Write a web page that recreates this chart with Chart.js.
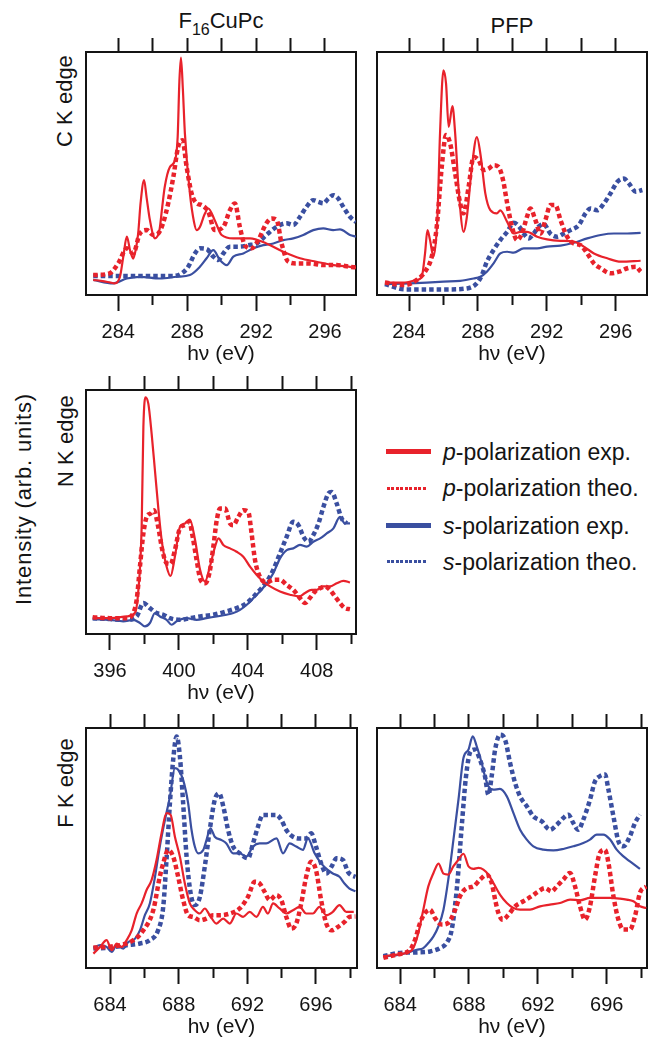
<!DOCTYPE html>
<html><head><meta charset="utf-8">
<script src="https://cdn.jsdelivr.net/npm/chart.js@4/dist/chart.umd.min.js"></script>
<style>
html,body{margin:0;padding:0;background:#fff;}
body{width:658px;height:1042px;position:relative;overflow:hidden;font-family:"Liberation Sans",Arial,Helvetica,sans-serif;color:#141414;}
.lbl{position:absolute;white-space:nowrap;font-size:22px;line-height:22px;text-align:center;width:200px;}
.lbl sub{font-size:16px;vertical-align:-6.5px;line-height:0;}
.rot{position:absolute;width:260px;height:22px;line-height:22px;font-size:22px;text-align:center;white-space:nowrap;transform:rotate(-90deg);}
.legline{position:absolute;}
.legtxt{position:absolute;left:443px;font-size:23px;line-height:23px;white-space:nowrap;}
</style></head><body>

<div class="lbl" style="left:121px;top:9.7px;">F<sub>16</sub>CuPc</div>
<div class="lbl" style="left:412px;top:14.7px;">PFP</div>
<div class="rot" style="left:-65px;top:89.5px;">C K edge</div>
<div class="rot" style="left:-64.5px;top:429.5px;">N K edge</div>
<div class="rot" style="left:-64.5px;top:771.5px;">F K edge</div>
<div class="rot" style="left:-106px;top:487.5px;letter-spacing:0.85px;">Intensity (arb. units)</div>

<div id="legend"></div>

<script>
// ---------- tick values ----------
const TICKS_C = [284, 286, 288, 290, 292, 294, 296];
const LABELS_C = [284, 288, 292, 296];
const TICKS_N = [396, 398, 400, 402, 404, 406, 408, 410];
const LABELS_N = [396, 400, 404, 408];
const TICKS_F = [684, 686, 688, 690, 692, 694, 696, 698];
const LABELS_F = [684, 688, 692, 696];

// ---------- legend / series names ----------
const SERIES_NAMES = ['p-polarization exp.', 'p-polarization theo.', 's-polarization exp.', 's-polarization theo.'];

// ---------- C K edge, F16CuPc  [eV, intensity] ----------
const cF16_pExp = [[282.55,6.2],[283.0,5.8],[283.5,5.2],[283.8,4.8],[284.1,7.5],[284.3,16],[284.5,24],[284.7,18],[284.87,15],[285.05,20],[285.16,25.5],[285.3,38],[285.5,47.3],[285.65,40],[285.84,30.8],[286.13,23.3],[286.4,27],[286.55,36],[286.7,44.5],[287.0,52.7],[287.3,55.5],[287.45,65],[287.55,88],[287.64,97.7],[287.75,85],[287.87,66.4],[288.16,41.8],[288.4,30],[288.55,26.7],[288.74,28],[289.0,33],[289.23,35.6],[289.6,30.8],[290.0,24.7],[290.68,23.3],[291.65,23.3],[292.6,21.2],[293.58,17.8],[294.55,15.1],[295.5,13.7],[296.5,12.3],[297.45,11.6],[297.8,11.3]];
const cF16_pTheo = [[282.55,8.2],[283.5,8.9],[284.0,13],[284.5,19.2],[284.87,17.1],[285.26,25.3],[285.65,26.7],[286.03,24.7],[286.32,25.3],[286.6,29.5],[286.9,37.7],[287.2,48.6],[287.48,61],[287.73,63.7],[287.97,52.7],[288.26,41.8],[288.55,37.7],[288.84,37],[289.23,34.2],[289.6,26.7],[290.1,28],[290.48,34.9],[290.77,37.7],[291.06,28],[291.35,20.5],[291.74,19.2],[292.13,22.6],[292.6,29.5],[292.9,31.5],[293.2,30.8],[293.48,21.2],[293.87,13.7],[294.35,13],[295.1,13],[295.9,12.3],[296.68,12.3],[297.45,11.6],[297.8,11.4]];
const cF16_sExp = [[282.55,6.2],[283.7,4.8],[284.5,6.8],[285.26,7.5],[286.42,6.8],[287.4,7.5],[288.16,8.2],[288.74,11.6],[289.13,15.1],[289.52,18.5],[289.9,14.4],[290.3,12.3],[290.68,15.8],[291.26,17.1],[291.84,19.2],[292.42,20.5],[293.0,21.2],[293.58,22.6],[294.16,23.3],[294.74,24.7],[295.32,26.7],[295.9,27.4],[296.48,26.7],[296.87,27],[297.45,24.7],[297.8,24]];
const cF16_sTheo = [[282.55,7.8],[283.9,7.8],[285.84,7.8],[287.2,7.8],[287.68,8.9],[288.06,11.6],[288.45,17.1],[288.74,19.2],[289.13,18.9],[289.52,15.8],[289.8,14.4],[290.1,17.1],[290.48,19.9],[291.06,19.9],[291.55,20.5],[292.03,21.2],[292.6,24.7],[293.2,28.1],[293.77,29.5],[294.16,28.8],[294.55,32.2],[294.93,36.3],[295.32,39],[295.6,38.4],[295.9,37.7],[296.2,39.7],[296.48,41.1],[296.77,39.7],[297.06,36.3],[297.45,32.2],[297.8,30]];

// ---------- C K edge, PFP ----------
const cPFP_pExp = [[282.6,5.1],[283.67,5.1],[284.45,6.2],[284.74,7.5],[284.93,17.1],[285.07,26.7],[285.22,22.6],[285.42,15.8],[285.65,32.2],[285.8,66.4],[286.0,92.5],[286.15,87],[286.3,69.2],[286.52,77.7],[286.68,66.4],[286.87,44.5],[287.17,26],[287.36,32.2],[287.65,52.7],[287.94,65],[288.17,56.8],[288.43,41.8],[288.72,34.9],[289.1,33.6],[289.3,34.8],[289.7,30.1],[290.08,25.3],[290.47,26],[290.85,26],[291.44,24],[292.02,22.9],[292.8,22.3],[293.57,22],[294.15,19.9],[294.74,17.1],[295.51,15.1],[296.3,13.7],[297.45,14.1]];
const cPFP_pTheo = [[282.6,5.1],[283.77,4.1],[284.45,6.2],[284.93,9.6],[285.32,15.8],[285.61,28.1],[285.9,52.7],[286.15,65.8],[286.39,62.3],[286.68,50],[286.97,37.7],[287.17,33.6],[287.46,44.5],[287.75,56.8],[288.04,55.5],[288.33,51.4],[288.62,52],[288.91,53.4],[289.2,52.7],[289.46,47.3],[289.7,37.7],[289.98,28.1],[290.27,22.6],[290.56,25.3],[290.85,32.2],[291.05,35.6],[291.34,30.8],[291.63,25.3],[291.92,30.8],[292.21,37],[292.5,37],[292.8,30.8],[293.18,24],[293.57,21.2],[293.96,20.5],[294.35,17.1],[294.74,13],[295.13,11],[295.7,8.9],[296.2,9.6],[296.68,11],[297.17,11.6],[297.45,9.6]];
const cPFP_sExp = [[282.6,4.5],[284.06,4.8],[285.03,5.1],[286.0,5.5],[286.97,5.8],[287.75,6.8],[288.14,7.5],[288.52,9.6],[288.91,13],[289.3,17.1],[289.7,17.8],[290.08,17.4],[290.66,19.2],[291.44,19.2],[292.02,19.9],[292.8,20.3],[293.57,21.5],[294.35,23.3],[295.13,24.7],[295.9,25.3],[296.68,25.3],[297.45,25.6]];
const cPFP_sTheo = [[282.6,4.5],[283.77,2.3],[285.03,2.3],[286.2,2.3],[287.36,2.7],[287.94,4.8],[288.23,8.2],[288.52,13.7],[288.91,18.5],[289.3,22.6],[289.7,26],[290.08,29.7],[290.37,28.4],[290.66,25.3],[290.95,23.3],[291.24,25.3],[291.53,28.1],[291.82,29.2],[292.21,25.3],[292.6,24],[292.99,25.3],[293.38,26.7],[293.86,28.8],[294.25,33.6],[294.54,35.6],[294.93,34.9],[295.32,37.7],[295.7,41.8],[296.1,46.6],[296.48,47.9],[296.77,45.9],[297.17,42.5],[297.55,43.2]];

// ---------- N K edge, F16CuPc ----------
const nF16_pExp = [[395.0,6.5],[396.0,6.5],[396.97,7.2],[397.45,8.6],[397.65,18.1],[397.84,43.9],[397.94,84.8],[398.07,97],[398.23,94.3],[398.42,82],[398.61,67.1],[398.8,52.1],[399.0,38.5],[399.29,27.6],[399.52,23.8],[399.77,31.7],[400.06,43.9],[400.35,45.3],[400.64,46.9],[400.94,38.5],[401.23,26.3],[401.52,21.5],[401.8,27.6],[402.1,35.8],[402.3,39.2],[402.58,36.5],[402.97,35.1],[403.35,33.7],[403.74,31.7],[404.13,27.6],[404.52,24.2],[404.9,21.5],[405.3,19.5],[405.87,17.4],[406.45,16.1],[407.0,15.4],[407.3,16.7],[407.7,18.1],[408.0,18.1],[408.38,19.5],[408.77,19.5],[409.16,20.8],[409.55,21.8],[409.93,21.1]];
const nF16_pTheo = [[395.0,6.9],[396.0,6.5],[396.97,6.5],[397.35,8.6],[397.55,14],[397.74,27.6],[397.94,41.2],[398.13,48],[398.36,49.4],[398.55,50.7],[398.8,43.9],[399.04,34.4],[399.29,29],[399.52,28.7],[399.77,34.4],[400.06,43.3],[400.35,44.6],[400.6,46],[400.8,39.9],[401.03,30.3],[401.26,22.2],[401.52,20.8],[401.77,24.9],[402.0,35.8],[402.2,46.7],[402.39,51.4],[402.68,51.4],[402.97,45.3],[403.16,44.6],[403.45,48],[403.74,50.7],[404.03,50],[404.22,41.2],[404.42,30.3],[404.7,23.5],[405.1,21.1],[405.48,22.2],[405.87,22.2],[406.26,20.1],[406.64,18.1],[407.03,14.7],[407.32,12.7],[407.6,14.7],[407.9,17.4],[408.2,18.8],[408.48,19.5],[408.77,18.1],[409.06,15.4],[409.35,12.7],[409.64,10.6],[409.93,10.2]];
const nF16_sExp = [[395.0,6.1],[396.0,5.8],[396.77,5.2],[397.35,5.8],[397.74,4.5],[398.03,3.1],[398.32,4.5],[398.61,8.6],[398.9,7.2],[399.29,5.8],[399.58,3.8],[399.87,5.2],[400.45,6.5],[401.03,5.8],[401.6,6.5],[402.2,7.2],[402.77,7.9],[403.16,8.6],[403.55,9.9],[403.94,12],[404.32,14.7],[404.7,17.4],[405.1,20.8],[405.48,24.9],[405.87,31],[406.26,34.4],[406.64,35.1],[407.03,36.5],[407.42,35.8],[407.8,37.8],[408.2,39.2],[408.58,41.2],[408.97,43.3],[409.35,48],[409.64,45.3],[409.93,45.3]];
const nF16_sTheo = [[395.0,6.5],[396.0,6.1],[396.97,5.8],[397.55,7.2],[397.94,12.7],[398.32,10.6],[398.71,8.6],[399.1,7.9],[399.48,6.5],[400.06,5.8],[400.64,6.5],[401.23,7.2],[402.0,7.9],[402.77,9.3],[403.35,10.6],[403.94,12.7],[404.52,16.7],[405.1,21.5],[405.48,26.3],[405.87,33.1],[406.26,39.9],[406.64,46],[406.94,44.6],[407.23,39.9],[407.52,37.8],[407.8,40.5],[408.1,45.3],[408.39,52.1],[408.68,57.6],[408.87,58.2],[409.16,53.5],[409.45,47.3],[409.74,45.3]];

// ---------- F K edge, F16CuPc ----------
const fF16_pExp = [[683.03,6],[683.42,8.8],[683.8,11.6],[684.1,7.4],[684.39,10.2],[684.68,8.8],[684.97,11.6],[685.26,15.7],[685.55,22.7],[685.84,26.9],[686.13,32.5],[686.42,36.6],[686.71,45],[687.0,56.1],[687.29,64.5],[687.53,63.8],[687.78,54.7],[688.07,46.4],[688.36,35.2],[688.65,26.9],[688.94,24.1],[689.23,22.7],[689.52,24.8],[689.81,22],[690.2,18.5],[690.59,20.6],[690.98,18.5],[691.36,22.7],[691.75,21.3],[692.14,23.4],[692.53,21.3],[692.91,25.5],[693.2,22.7],[693.5,26.9],[693.88,24.8],[694.27,22.7],[694.66,24.1],[695.05,25.5],[695.43,22.7],[695.82,22.7],[696.2,25.5],[696.6,22],[696.98,23.4],[697.37,26.2],[697.76,23.4],[698.2,23.4]];
const fF16_pTheo = [[683.03,8.5],[683.8,8.8],[684.58,9.5],[685.36,11.6],[685.94,15.7],[686.52,24.1],[686.9,38],[687.1,43.6],[687.39,49.2],[687.68,46.4],[687.97,38],[688.26,28.3],[688.55,22],[688.84,21.3],[689.23,19.9],[689.62,20.6],[690.0,22],[690.4,22],[690.98,22.7],[691.55,24.8],[692.04,29.7],[692.43,35.9],[692.72,35.2],[693.0,31.8],[693.3,28.3],[693.69,30.4],[693.98,28.3],[694.27,21.3],[694.56,16.4],[694.85,18.5],[695.14,26.9],[695.43,38],[695.72,44.3],[696.0,40.8],[696.3,28.3],[696.6,18.5],[696.9,15.7],[697.28,17.1],[697.66,19.2],[697.95,21.3],[698.3,21.5]];
const fF16_sExp = [[683.03,8.5],[683.42,9.5],[683.8,8.8],[684.1,6.7],[684.39,9.5],[684.78,8.1],[685.07,10.9],[685.36,11.6],[685.74,15.7],[686.03,22],[686.32,26.9],[686.62,38],[686.9,50.6],[687.2,61.7],[687.49,71.4],[687.78,83.3],[687.97,82.6],[688.26,78.4],[688.55,68.7],[688.75,57.5],[688.94,50.6],[689.13,47.8],[689.43,49.2],[689.62,53.3],[689.85,58.2],[690.1,54.7],[690.5,53.3],[690.78,51.9],[691.17,47.8],[691.55,47.8],[691.94,46.4],[692.33,50.6],[692.72,51.9],[693.1,51.9],[693.7,54],[694.08,47.8],[694.47,51.9],[694.85,50.6],[695.24,49.2],[695.53,54],[695.92,47.8],[696.3,43.6],[696.7,40.8],[696.98,39.4],[697.37,38],[697.66,35.2],[697.95,33.1],[698.3,32]];
const fF16_sTheo = [[683.03,8.1],[684.0,8.5],[684.97,9.5],[685.74,10.2],[686.32,11.6],[686.8,15.7],[687.1,25.5],[687.29,45],[687.49,68.7],[687.68,86.8],[687.88,96.5],[688.07,88.2],[688.26,68.7],[688.46,46.4],[688.7,31],[688.94,26.2],[689.23,29.5],[689.52,42.2],[689.81,57.5],[690.1,70],[690.36,72.8],[690.6,67.3],[690.88,57.5],[691.17,50.6],[691.55,47.8],[692.04,45.7],[692.33,51.9],[692.62,58.9],[692.91,63.8],[693.3,63.8],[693.69,63.8],[693.98,61.7],[694.27,57.5],[694.66,54.7],[695.05,54],[695.43,54],[695.72,56.1],[696.0,50.6],[696.3,43.6],[696.6,39.4],[696.9,42.2],[697.2,45.7],[697.57,45],[697.86,40.1],[698.05,38.7],[698.3,38]];

// ---------- F K edge, PFP ----------
const fPFP_pExp = [[683.03,4.9],[683.8,5.6],[684.58,6.9],[684.77,8.3],[685.06,14.6],[685.35,24.3],[685.64,34],[685.94,39.6],[686.23,43.5],[686.52,39.3],[686.8,38.9],[687.1,42.4],[687.39,45.1],[687.68,47.6],[687.97,42.4],[688.26,41.3],[688.55,41.7],[688.84,41],[689.13,38.9],[689.42,35.4],[689.8,30.6],[690.2,27.1],[690.58,25],[690.97,24.3],[691.55,24.3],[692.13,25.7],[692.7,26.4],[693.29,27.1],[693.87,28.5],[694.45,28.2],[695.03,29.2],[695.6,29.2],[696.2,29.2],[696.77,28.9],[697.16,28.5],[697.55,27.8],[697.93,25.7],[698.3,25]];
const fPFP_pTheo = [[683.03,4.2],[683.8,5.6],[684.58,7.6],[684.87,11.8],[685.16,18.8],[685.45,22.9],[685.74,24.3],[686.03,20.8],[686.42,18.1],[686.8,18.8],[687.2,24.3],[687.48,29.9],[687.87,33.3],[688.26,34],[688.64,36.8],[689.03,38.9],[689.32,35.4],[689.52,28.5],[689.71,22.9],[689.96,20.1],[690.29,22.2],[690.68,25.7],[691.16,27.8],[691.64,29.9],[692.03,31.9],[692.42,33.3],[692.8,31.9],[693.1,34],[693.48,36.8],[693.87,39.6],[694.16,34],[694.45,25.7],[694.74,20.1],[695.03,25.7],[695.32,38.2],[695.6,47.9],[695.9,49.3],[696.1,43.8],[696.39,29.9],[696.68,20.1],[696.97,16],[697.35,16],[697.64,21.5],[697.93,31.3],[698.3,34]];
const fPFP_sExp = [[683.03,4.9],[684.0,5.6],[684.97,7.6],[685.35,8.3],[685.64,10.4],[685.94,13.2],[686.23,17.4],[686.52,24.3],[686.8,36.8],[687.1,53.5],[687.39,70.1],[687.68,87.5],[687.97,91],[688.22,96.5],[688.45,92.4],[688.74,85.4],[688.93,79.9],[689.13,75.7],[689.42,74.3],[689.8,74.6],[690.2,71.5],[690.58,64.6],[690.97,57.6],[691.36,53.5],[691.74,50.7],[692.32,49.3],[692.9,49],[693.48,49.6],[694.06,50.7],[694.64,52.1],[695.03,53.5],[695.42,55.6],[695.8,55.6],[696.2,53.5],[696.58,49.3],[696.97,46.5],[697.35,44.4],[697.93,41.3]];
const fPFP_sTheo = [[683.03,4.9],[684.0,6.3],[684.97,6.5],[685.74,6.9],[686.32,8.3],[686.7,10.4],[687.0,16],[687.29,32.6],[687.58,59],[687.83,79.9],[688.1,90.3],[688.35,91],[688.64,86.8],[688.93,79.9],[689.13,72.2],[689.32,79.9],[689.52,91],[689.8,97.2],[690.1,95.1],[690.39,85.4],[690.68,77.1],[690.97,71.5],[691.36,67.4],[691.74,63.2],[692.23,61.1],[692.7,57.6],[693.1,59.7],[693.48,62.5],[693.77,63.9],[694.06,60.4],[694.35,57.6],[694.64,61.8],[695.03,70.1],[695.32,77.8],[695.6,79.9],[695.9,80.6],[696.1,74.3],[696.39,63.2],[696.68,52.8],[696.97,50.7],[697.35,54.9],[697.64,60.4],[697.93,63.9]];

// ---------- styling & layout ----------
const FONT = '"Liberation Sans", Arial, Helvetica, sans-serif';
const RED = '#e8222b', BLUE = '#3a4fa0', INK = '#141414';
const PADL = 30, PADR = 10, PADT = 16, PADB = 80;
Chart.defaults.font.family = FONT;

function panel(box, range, ticks, labels, series) {
  const W = box.R - box.L, H = box.B - box.T;
  const cv = document.createElement('canvas');
  cv.width = W + PADL + PADR; cv.height = H + PADT + PADB;
  cv.style.cssText = 'position:absolute;left:' + (box.L - PADL) + 'px;top:' + (box.T - PADT) + 'px;width:' + cv.width + 'px;height:' + cv.height + 'px;';
  document.body.appendChild(cv);
  const setTicks = s => { s.ticks = ticks.map(v => ({ value: v })); };
  const isMajor = v => labels.includes(v);
  const ds = [
    { d: series[0], c: RED, dot: false },
    { d: series[1], c: RED, dot: true },
    { d: series[2], c: BLUE, dot: false },
    { d: series[3], c: BLUE, dot: true }
  ].map((s, i) => ({
    label: SERIES_NAMES[i],
    data: s.d.map(p => ({ x: p[0], y: p[1] })),
    borderColor: s.c,
    backgroundColor: s.c,
    borderWidth: s.dot ? 4.5 : 2.2,
    borderDash: s.dot ? [4.5, 3] : [],
    borderCapStyle: 'butt',
    pointRadius: 0,
    cubicInterpolationMode: 'monotone',
    fill: false
  }));
  new Chart(cv, {
    type: 'line',
    data: { datasets: ds },
    options: {
      responsive: false, animation: false, devicePixelRatio: 1,
      layout: { padding: { left: PADL, right: PADR, top: 0, bottom: 0 } },
      plugins: { legend: { display: false }, tooltip: { enabled: false }, title: { display: false } },
      scales: {
        x: {
          type: 'linear', position: 'bottom', min: range[0], max: range[1],
          afterBuildTicks: setTicks,
          afterFit: s => { s.height = PADB; },
          grid: {
            drawOnChartArea: false, drawTicks: true, tickLength: 16, tickWidth: 2, tickColor: INK,
            tickBorderDash: c => (c.tick && !isMajor(c.tick.value)) ? [9, 40] : []
          },
          border: { display: true, color: INK, width: 2 },
          ticks: {
            autoSkip: false, maxRotation: 0, minRotation: 0, padding: 9, color: INK,
            font: { family: FONT, size: 20 },
            callback: v => isMajor(v) ? String(v) : ''
          },
          title: { display: true, text: 'h\u03bd (eV)', color: INK, font: { family: FONT, size: 21 }, padding: { top: 0, bottom: 8 } }
        },
        x2: {
          type: 'linear', position: 'top', min: range[0], max: range[1],
          afterBuildTicks: setTicks,
          afterFit: s => { s.height = PADT; },
          grid: { drawOnChartArea: false, drawTicks: true, tickLength: 14, tickWidth: 2, tickColor: INK },
          border: { display: true, color: INK, width: 2 },
          ticks: { display: false }
        },
        y: {
          type: 'linear', position: 'left', min: 0, max: 100,
          afterFit: s => { s.width = 0; },
          grid: { drawOnChartArea: false, drawTicks: false },
          border: { display: true, color: INK, width: 2 },
          ticks: { display: false }
        },
        y2: {
          type: 'linear', position: 'right', min: 0, max: 100,
          afterFit: s => { s.width = 0; },
          grid: { drawOnChartArea: false, drawTicks: false },
          border: { display: true, color: INK, width: 2 },
          ticks: { display: false }
        }
      }
    }
  });
}

panel({ L: 86, R: 356, T: 52, B: 295 }, [282.13, 297.8], TICKS_C, LABELS_C, [cF16_pExp, cF16_pTheo, cF16_sExp, cF16_sTheo]);
panel({ L: 377, R: 647, T: 52, B: 295 }, [282.14, 297.82], TICKS_C, LABELS_C, [cPFP_pExp, cPFP_pTheo, cPFP_sExp, cPFP_sTheo]);
panel({ L: 86, R: 356, T: 390, B: 634 }, [394.61, 410.28], TICKS_N, LABELS_N, [nF16_pExp, nF16_pTheo, nF16_sExp, nF16_sTheo]);
panel({ L: 86, R: 357, T: 728, B: 968 }, [682.6, 698.39], TICKS_F, LABELS_F, [fF16_pExp, fF16_pTheo, fF16_sExp, fF16_sTheo]);
panel({ L: 377, R: 647, T: 728, B: 968 }, [682.66, 698.34], TICKS_F, LABELS_F, [fPFP_pExp, fPFP_pTheo, fPFP_sExp, fPFP_sTheo]);

// ---------- legend (HTML) ----------
const LEG_Y = [451.7, 488.3, 525.7, 561.7];
const leg = document.getElementById('legend');
SERIES_NAMES.forEach((name, i) => {
  const col = i < 2 ? RED : BLUE;
  const dotted = i % 2 === 1;
  const ln = document.createElement('div');
  ln.className = 'legline';
  if (dotted) {
    ln.style.cssText = 'left:387px;width:40px;height:3.4px;top:' + (LEG_Y[i] - 1.7) + 'px;background:repeating-linear-gradient(90deg,' + col + ' 0 2.8px,transparent 2.8px 4.5px);';
  } else {
    ln.style.cssText = 'left:386px;width:45px;height:5px;top:' + (LEG_Y[i] - 2.5) + 'px;background:' + col + ';';
  }
  leg.appendChild(ln);
  const tx = document.createElement('div');
  tx.className = 'legtxt';
  tx.style.top = (LEG_Y[i] + 8.3 - 19.5) + 'px';
  tx.innerHTML = '<i>' + name.charAt(0) + '</i>' + name.slice(1);
  leg.appendChild(tx);
});
</script>
</body></html>
